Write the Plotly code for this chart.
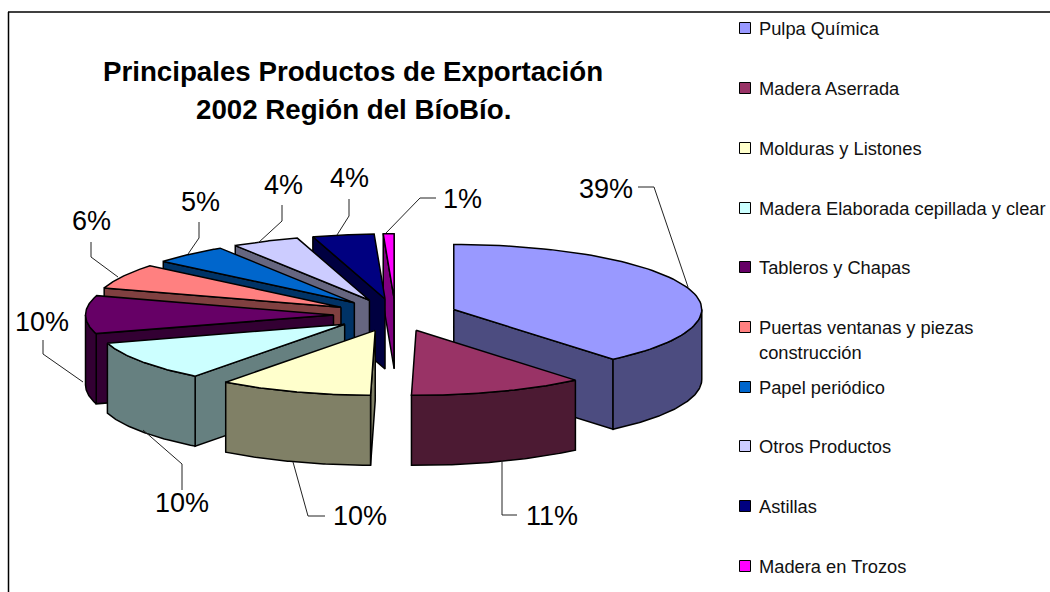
import numpy as np
import plotly.graph_objects as go

# ---- data ----
categories = ["Pulpa Química", "Madera Aserrada", "Molduras y Listones",
              "Madera Elaborada cepillada y clear", "Tableros y Chapas",
              "Puertas ventanas y piezas<br>construcción", "Papel periódico",
              "Otros Productos", "Astillas", "Madera en Trozos"]
values = [38.9, 11.4, 10.0, 10.0, 9.5, 6.2, 4.9, 4.4, 4.0, 0.7]
title_lines = ["Principales Productos de Exportación", "2002 Región del BíoBío."]

# ---- style ----
colors = ["#9999FF", "#993366", "#FFFFCC", "#CCFFFF", "#660066",
          "#FF8080", "#0066CC", "#CCCCFF", "#000080", "#FF00FF"]
FONT = "Liberation Sans, Arial, sans-serif"
CX, CY, RX, RY, DEPTH, EXPLODE = 395.5, 315.0, 248.0, 65.0, 70.0, 0.25

# label centre and leader path for each slice, in page pixels
label_xy = [(606, 189), (552, 516), (360, 516), (182, 503), (42, 322),
            (91, 221), (200, 202), (283, 185), (349, 178), (462, 199)]
leaders = [
    [(638, 187), (654, 187), (688, 287)],
    [(502, 460), (502, 515), (517, 515)],
    [(293, 462), (308, 516), (325, 516)],
    [(143, 430), (182, 464), (182, 490)],
    [(83, 382), (43, 354), (43, 340)],
    [(118, 277), (91, 257), (91, 242)],
    [(188, 254), (199, 238), (199, 222)],
    [(258, 243), (282, 221), (282, 205)],
    [(337, 235), (349, 216), (349, 199)],
    [(386, 233), (420, 198), (436, 198)],
]


def darker(hex_color):
    r, g, b = (int(hex_color[i:i + 2], 16) for i in (1, 3, 5))
    return f"rgb({round(r / 2)},{round(g / 2)},{round(b / 2)})"


def poly(fig, xs, ys, fill):
    fig.add_trace(go.Scatter(
        x=list(xs), y=list(ys), mode="lines", fill="toself", fillcolor=fill,
        line=dict(color="black", width=1.5), hoverinfo="skip", showlegend=False))


fig = go.Figure()

edges = np.radians(np.cumsum([0.0] + values) / sum(values) * 360.0)
slices = []
for i, (a, b) in enumerate(zip(edges[:-1], edges[1:])):
    mid = (a + b) / 2
    slices.append((i, a, b, mid))

# painter's order: furthest from the viewer first
for i, a, b, mid in sorted(slices, key=lambda s: -np.cos(s[3])):
    ax = CX + EXPLODE * RX * np.sin(mid)
    ay = CY - EXPLODE * RY * np.cos(mid)
    t = np.linspace(a, b, 80)
    arc_x = ax + RX * np.sin(t)
    arc_y = ay - RY * np.cos(t)
    wall = darker(colors[i])

    # radial walls that face the viewer
    if np.sin(a) < 0:
        ex, ey = ax + RX * np.sin(a), ay - RY * np.cos(a)
        poly(fig, [ax, ex, ex, ax, ax], [ay, ey, ey + DEPTH, ay + DEPTH, ay], wall)
    if np.sin(b) > 0:
        ex, ey = ax + RX * np.sin(b), ay - RY * np.cos(b)
        poly(fig, [ax, ex, ex, ax, ax], [ay, ey, ey + DEPTH, ay + DEPTH, ay], wall)

    # outer wall, the front half of the rim only
    lo, hi = max(a, np.pi / 2), min(b, 3 * np.pi / 2)
    if hi > lo:
        w = np.linspace(lo, hi, 80)
        wx = ax + RX * np.sin(w)
        wy = ay - RY * np.cos(w)
        poly(fig, np.r_[wx, wx[::-1], wx[0]], np.r_[wy, wy[::-1] + DEPTH, wy[0]], wall)

    # top face
    poly(fig, np.r_[ax, arc_x, ax], np.r_[ay, arc_y, ay], colors[i])

annotations = []

# percentage labels and their leader lines
for v, (lx, ly), path in zip(values, label_xy, leaders):
    annotations.append(dict(x=lx, y=ly, text=f"{round(v)}%", showarrow=False,
                            xanchor="center", yanchor="middle",
                            font=dict(family=FONT, size=27, color="black")))
    fig.add_trace(go.Scatter(x=[p[0] for p in path], y=[p[1] for p in path], mode="lines",
                             line=dict(color="#222222", width=1), hoverinfo="skip",
                             showlegend=False))

# title
for text, y in zip(title_lines, (71, 109)):
    annotations.append(dict(x=353, y=y, text=f"<b>{text}</b>", showarrow=False,
                            xanchor="center", yanchor="middle",
                            font=dict(family=FONT, size=27.7, color="black")))

# legend
legend_y = [28, 88, 148, 208, 267, 327, 387, 446, 506, 566]
fig.add_trace(go.Scatter(
    x=[745] * len(categories), y=legend_y, mode="markers", hoverinfo="skip", showlegend=False,
    marker=dict(symbol="square", size=11, color=colors, line=dict(color="black", width=1))))
for name, y in zip(categories, legend_y):
    for k, part in enumerate(name.split("<br>")):
        annotations.append(dict(x=757, y=y + k * 25, text=part, showarrow=False,
                                xanchor="left", yanchor="middle",
                                font=dict(family=FONT, size=18.3, color="#111111")))

# chart frame: left and top edges
shapes = [
    dict(type="line", xref="x", yref="y", x0=8.5, y0=12, x1=8.5, y1=592,
         line=dict(color="black", width=1.5)),
    dict(type="line", xref="x", yref="y", x0=8, y0=12, x1=1050, y1=12,
         line=dict(color="black", width=1.5)),
]

fig.update_layout(
    width=1050, height=592, margin=dict(l=0, r=0, t=0, b=0),
    paper_bgcolor="white", plot_bgcolor="white", showlegend=False,
    xaxis=dict(range=[0, 1050], visible=False, fixedrange=True),
    yaxis=dict(range=[592, 0], visible=False, fixedrange=True),
    annotations=annotations, shapes=shapes,
)

fig.write_html("out.html", config={"displayModeBar": False},
               post_script="document.body.style.margin='0';document.body.style.overflow='hidden';")
